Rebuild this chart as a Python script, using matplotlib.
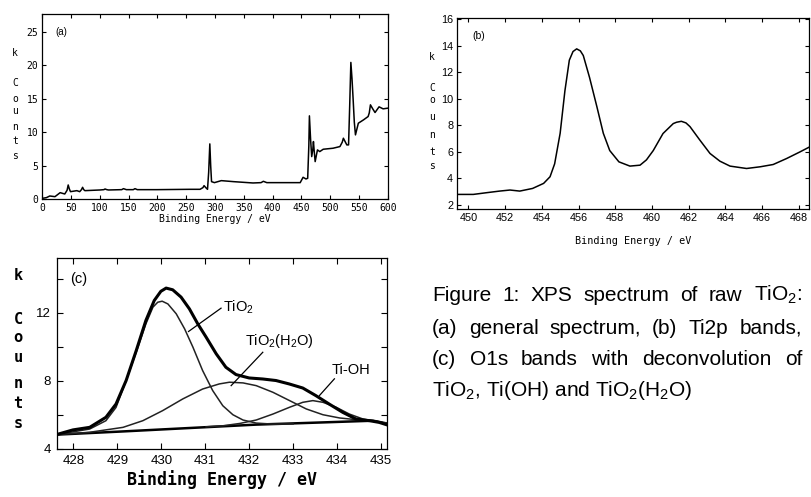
import matplotlib
matplotlib.use("Agg")
import matplotlib.pyplot as plt
from matplotlib.ticker import MultipleLocator

plt.rcParams['mathtext.fontset'] = 'custom'
plt.rcParams['mathtext.rm'] = 'Liberation Sans'
plt.rcParams['mathtext.it'] = 'Liberation Sans:italic'
plt.rcParams['mathtext.bf'] = 'Liberation Sans:bold'

# ---------------- data ----------------
# (a) general survey spectrum
survey_energy = [0, 7, 13, 22, 31, 39, 43, 45, 47, 49, 60, 65, 68, 70, 72, 74, 100, 107, 109, 112,
                 115, 138, 141, 146, 158, 161, 165, 170, 199, 256, 274, 279, 281, 284, 287, 289,
                 291, 292.5, 294, 299, 303, 311, 332, 366, 380, 384, 390, 448, 453, 458, 461,
                 463, 464, 466, 468, 470, 471, 472.5, 474, 476, 478, 482, 488, 505, 517, 521,
                 523, 526, 529, 532, 534, 536, 538, 540, 542, 544, 549, 558, 566, 568, 570,
                 574, 578, 585, 592, 600]
survey_counts = [0.1, 0.2, 0.45, 0.35, 0.95, 0.75, 1.3, 2.1, 1.5, 1.1, 1.25, 1.1, 1.4, 1.75, 1.4,
                 1.25, 1.35, 1.4, 1.5, 1.4, 1.35, 1.4, 1.55, 1.4, 1.4, 1.55, 1.4, 1.4, 1.4, 1.45,
                 1.45, 1.7, 2.0, 1.7, 1.45, 4.0, 8.25, 5.0, 2.6, 2.45, 2.55, 2.75, 2.6, 2.4, 2.45,
                 2.65, 2.45, 2.45, 3.25, 3.0, 3.1, 8.0, 12.45, 9.0, 6.35, 7.5, 8.6, 7.0, 5.6, 6.5,
                 7.35, 7.1, 7.45, 7.6, 7.85, 8.5, 9.1, 8.6, 8.1, 8.1, 14.0, 20.45, 18.0, 14.85,
                 11.5, 9.6, 11.35, 11.85, 12.35, 12.9, 14.1, 13.5, 12.95, 13.8, 13.5, 13.6]

# (b) Ti2p bands
ti2p_energy = [449.4, 450.27, 451.0, 451.7, 452.27, 452.8, 453.5, 454.1, 454.45, 454.7, 455.0,
               455.26, 455.5, 455.7, 455.9, 456.1, 456.26, 456.6, 457.0, 457.35, 457.7, 458.2,
               458.8, 459.35, 459.7, 460.07, 460.6, 461.16, 461.34, 461.6, 461.85, 462.07,
               462.6, 463.16, 463.7, 464.25, 465.15, 465.9, 466.6, 467.33, 468.06, 468.55]
ti2p_counts = [2.8, 2.8, 2.93, 3.05, 3.13, 3.05, 3.25, 3.63, 4.13, 5.1, 7.4, 10.6, 12.9, 13.55,
               13.75, 13.6, 13.25, 11.6, 9.4, 7.4, 6.1, 5.25, 4.93, 5.0, 5.4, 6.1, 7.38, 8.13,
               8.23, 8.3, 8.18, 7.9, 6.9, 5.88, 5.3, 4.93, 4.75, 4.88, 5.05, 5.5, 6.0, 6.35]

# (c) O1s bands with deconvolution
o1s_energy = [427.61, 427.99, 428.37, 428.74, 428.97, 429.2, 429.43, 429.65, 429.84, 429.99,
              430.11, 430.26, 430.45, 430.64, 430.83, 431.02, 431.25, 431.47, 431.7, 432.0,
              432.31, 432.61, 432.91, 433.22, 433.52, 433.82, 434.13, 434.43, 434.74, 434.96,
              435.13]
o1s_envelope = [4.84, 5.12, 5.27, 5.86, 6.64, 8.02, 9.78, 11.55, 12.72, 13.26, 13.45, 13.35,
                12.92, 12.23, 11.35, 10.57, 9.59, 8.8, 8.37, 8.17, 8.11, 8.02, 7.82, 7.58,
                7.13, 6.64, 6.15, 5.76, 5.66, 5.56, 5.42]

baseline_energy = [427.61, 429.13, 430.64, 432.16, 433.68, 434.82, 435.13]
baseline_counts = [4.84, 5.03, 5.23, 5.43, 5.56, 5.66, 5.5]

tio2_energy = [427.61, 428.37, 428.74, 428.97, 429.2, 429.43, 429.65, 429.81, 429.92, 430.02,
               430.15, 430.34, 430.53, 430.72, 430.94, 431.17, 431.4, 431.63, 431.86, 432.16,
               432.54, 433.0]
tio2_counts = [4.84, 5.17, 5.66, 6.44, 8.02, 9.68, 11.35, 12.33, 12.62, 12.68, 12.52, 11.94,
               11.06, 9.98, 8.61, 7.43, 6.54, 6.01, 5.7, 5.52, 5.46, 5.47]

hydr_energy = [427.61, 428.37, 429.13, 429.58, 430.03, 430.49, 430.94, 431.32, 431.55, 431.86,
               432.16, 432.54, 432.92, 433.3, 433.68, 434.06, 434.44, 434.82, 435.13]
hydr_counts = [4.84, 4.98, 5.27, 5.66, 6.25, 6.94, 7.52, 7.82, 7.92, 7.88, 7.72, 7.33, 6.84,
               6.35, 6.01, 5.82, 5.72, 5.66, 5.5]

tioh_energy = [431.02, 431.4, 431.79, 432.16, 432.54, 432.92, 433.22, 433.45, 433.68, 433.98,
               434.28, 434.59, 434.89, 435.13]
tioh_counts = [5.3, 5.36, 5.5, 5.7, 6.05, 6.45, 6.74, 6.84, 6.74, 6.45, 6.05, 5.76, 5.62, 5.5]

# annotations
o1s_labels = ["TiO$_2$", "TiO$_2$(H$_2$O)", "Ti-OH"]
o1s_label_xy = [(431.4, 12.33), (431.9, 10.37), (433.88, 8.65)]
o1s_line_from = [(431.36, 12.27), (432.31, 9.68), (433.94, 8.12)]
o1s_line_to = [(430.62, 10.9), (431.59, 7.72), (433.6, 7.14)]

survey_xticks = list(range(0, 601, 50))
ti2p_xticks = list(range(450, 469, 2))
o1s_xticks = list(range(428, 436))

# ---------------- figure ----------------
W, H = 811, 497
fig = plt.figure(figsize=(W / 100, H / 100), dpi=100)
fig.patch.set_facecolor('white')


def box(l, t, r, b):
    return [l / W, 1 - b / H, (r - l) / W, (b - t) / H]


mono = 'DejaVu Sans Mono'
sans = 'Liberation Sans'


def stacked(xpx, ys, size, weight='normal'):
    letters = ['k', 'C', 'o', 'u', 'n', 't', 's']
    for ch, ypx in zip(letters, ys):
        fig.text(xpx / W, 1 - ypx / H, ch, family=mono, fontsize=size, weight=weight,
                 ha='center', va='center')


def style(ax, lw=0.9):
    for s in ax.spines.values():
        s.set_linewidth(lw)
    ax.tick_params(which='both', direction='in', top=True, right=True, width=0.8)

# (a)
axa = fig.add_axes(box(42.3, 14, 387.7, 199))
axa.plot(survey_energy, survey_counts, color='black', lw=1.1)
axa.set_xlim(0, 600)
axa.set_ylim(0, 27.7)
axa.set_xticks(survey_xticks)
axa.yaxis.set_major_locator(MultipleLocator(5))
style(axa)
axa.tick_params(length=3, labelsize=7, pad=3)
for lab in axa.get_xticklabels() + axa.get_yticklabels():
    lab.set_family(mono)
axa.text(22, 25, "(a)", family=sans, fontsize=7, ha='left', va='center')
axa.set_xlabel("Binding Energy / eV", family=mono, fontsize=7, labelpad=0.5)
stacked(15, [53, 83, 99, 111, 127, 141, 156], 7)

# (b)
axb = fig.add_axes(box(457.3, 18.3, 809, 209.3))
axb.plot(ti2p_energy, ti2p_counts, color='black', lw=1.1)
axb.set_xlim(449.4, 468.55)
axb.set_ylim(1.68, 16.05)
axb.set_xticks(ti2p_xticks)
axb.yaxis.set_major_locator(MultipleLocator(2))
style(axb)
axb.tick_params(length=3, labelsize=7.8, pad=3)
for lab in axb.get_xticklabels() + axb.get_yticklabels():
    lab.set_family(sans)
axb.text(450.2, 14.75, "(b)", family=sans, fontsize=7.5, ha='left', va='center')
axb.set_xlabel("Binding Energy / eV", family=mono, fontsize=7.3, labelpad=9)
stacked(432, [57, 88, 100, 117, 135, 152, 166], 7)

# (c)
axc = fig.add_axes(box(56.7, 258.3, 386.7, 449.3))
axc.plot(baseline_energy, baseline_counts, color='black', lw=1.8)
axc.plot(tio2_energy, tio2_counts, color='#222222', lw=1.1)
axc.plot(hydr_energy, hydr_counts, color='#222222', lw=1.1)
axc.plot(tioh_energy, tioh_counts, color='#222222', lw=1.1)
axc.plot(o1s_energy, o1s_envelope, color='black', lw=2.2)
axc.set_xlim(427.62, 435.13)
axc.set_ylim(3.98, 15.2)
axc.set_xticks(o1s_xticks)
axc.yaxis.set_major_locator(MultipleLocator(4))
axc.yaxis.set_minor_locator(MultipleLocator(2))
style(axc)
axc.tick_params(which='major', length=4, labelsize=9.5, pad=4)
axc.tick_params(which='minor', length=4)
for lab in axc.get_xticklabels() + axc.get_yticklabels():
    lab.set_family(sans)
axc.text(427.93, 14.0, "(c)", family=sans, fontsize=10.5, ha='left', va='center')
for lab, (tx, ty), p0, p1 in zip(o1s_labels, o1s_label_xy, o1s_line_from, o1s_line_to):
    axc.text(tx, ty, lab, family=sans, fontsize=10.5, ha='left', va='center')
    axc.plot([p0[0], p1[0]], [p0[1], p1[1]], color='black', lw=0.9)
axc.set_xlabel("Binding Energy / eV", family=mono, fontsize=12, weight='bold', labelpad=2)
stacked(18, [275, 319, 338, 358, 384, 403, 423], 11, 'bold')

# caption, justified
cap_lines = [
    ["Figure", "1:", "XPS", "spectrum", "of", "raw", "TiO$_2$:"],
    ["(a)", "general", "spectrum,", "(b)", "Ti2p", "bands,"],
    ["(c)", "O1s", "bands", "with", "deconvolution", "of"],
]
cap_last = "TiO$_2$, Ti(OH) and TiO$_2$(H$_2$O)"
cap_left, cap_right = 432, 802
cap_base = [301, 334, 365, 396]
cap_size = 15

fig.canvas.draw()
renderer = fig.canvas.get_renderer()
for words, ypx in zip(cap_lines, cap_base):
    objs = [fig.text(0, 1 - ypx / H, w, family=sans, fontsize=cap_size, ha='left',
                     va='baseline') for w in words]
    widths = [o.get_window_extent(renderer).width for o in objs]
    gap = (cap_right - cap_left - sum(widths)) / (len(words) - 1)
    x = cap_left
    for o, wd in zip(objs, widths):
        o.set_x(x / W)
        x += wd + gap
fig.text(cap_left / W, 1 - cap_base[3] / H, cap_last, family=sans, fontsize=cap_size,
         ha='left', va='baseline')

fig.savefig("out.png", dpi=100, facecolor='white')
